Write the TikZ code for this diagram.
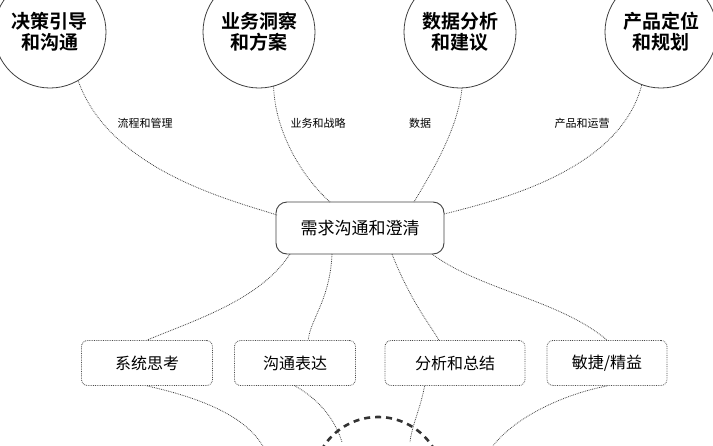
\documentclass[tikz,border=0pt]{standalone}
\usepackage{fontspec}
\setmainfont{Noto Sans CJK SC}
\newfontfamily\cjkb{Noto Sans CJK SC Bold}
\begin{document}
\begin{tikzpicture}[x=1pt,y=-1pt,
  topc/.style={circle,draw=black!75,line width=0.8pt,minimum size=112pt,align=center,font=\cjkb\fontsize{19}{21}\selectfont,inner sep=0pt},
  mid/.style={draw=black!75,line width=0.9pt,rounded corners=11pt,minimum width=168pt,minimum height=52pt,font=\fontsize{17}{20}\selectfont},
  skill/.style={draw=black!70,densely dotted,line width=0.8pt,rounded corners=6pt,minimum height=45pt,font=\fontsize{16}{19}\selectfont},
  link/.style={densely dotted,line width=0.8pt,black!75},
  lab/.style={font=\fontsize{11}{13}\selectfont}]
\useasboundingbox (0,0) rectangle (713,445);
\clip (0,0) rectangle (713,445);
\node[topc] (c1) at (50,32) {决策引导\\和沟通};
\node[topc] (c2) at (259,32) {业务洞察\\和方案};
\node[topc] (c3) at (460,32) {数据分析\\和建议};
\node[topc] (c4) at (661,32) {产品定位\\和规划};
\node[mid] (m) at (360,228) {需求沟通和澄清};
\node[skill,minimum width=131pt] (s1) at (147,363) {系统思考};
\node[skill,minimum width=121pt] (s2) at (295,363) {沟通表达};
\node[skill,minimum width=140pt] (s3) at (455,363) {分析和总结};
\node[skill,minimum width=120pt] (s4) at (607,363) {敏捷/精益};
\node[lab] (l1) at (145,123) {流程和管理};
\node[lab] (l2) at (318,123) {业务和战略};
\node[lab] (l3) at (420,123) {数据};
\node[lab] (l4) at (582,123) {产品和运营};
\coordinate (m1) at (277,215);
\coordinate (m2) at (330,202);
\coordinate (m3) at (414,202);
\coordinate (m4) at (444,214);
\draw[link] (c1.300) .. controls (110,170) and (230,200) .. (m1);
\draw[link] (c2.285) .. controls (275,130) and (300,175) .. (m2);
\draw[link] (c3.272) .. controls (458,130) and (430,175) .. (m3);
\draw[link] (c4.250) .. controls (620,170) and (500,200) .. (m4);
\coordinate (b1) at (290,254);
\coordinate (b2) at (332,254);
\coordinate (b3) at (392,254);
\coordinate (b4) at (432,254);
\draw[link] (b1) .. controls (260,300) and (195,320) .. (s1.north);
\draw[link] (b2) .. controls (330,300) and (310,320) .. (s2.60);
\draw[link] (b3) .. controls (410,300) and (430,325) .. (s3.125);
\draw[link] (b4) .. controls (480,290) and (560,300) .. (s4.north);
\coordinate (o1) at (265,450);
\coordinate (o2) at (342,442);
\coordinate (o3) at (410,442);
\coordinate (o4) at (490,450);
\draw[link] (s1.south) .. controls (210,400) and (250,420) .. (o1);
\draw[link] (s2.south) .. controls (320,400) and (335,420) .. (o2);
\draw[link] (s3.south west) ++(40,0) .. controls (420,410) and (412,425) .. (o3);
\draw[link] (s4.south) .. controls (560,395) and (510,420) .. (o4);
\node[circle,draw=black!80,dashed,line width=2.6pt,minimum size=130pt,dash pattern=on 6pt off 5pt] (core) at (378,482) {};
\end{tikzpicture}
\end{document}
